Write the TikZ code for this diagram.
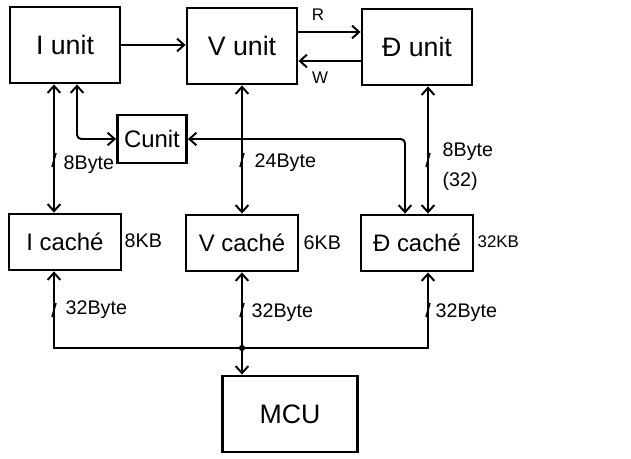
\documentclass[tikz,border=0pt]{standalone}
\usepackage{fontspec}
\setmainfont{Liberation Sans}
\usetikzlibrary{arrows.meta}

\begin{document}
\begin{tikzpicture}[x=0.025cm,y=-0.025cm,>={Straight Barb[length=5pt,width=9pt]}]
\tikzstyle{unitbox}=[draw,line width=2pt,minimum width=2.75cm,minimum height=1.9cm,font=\fontsize{19}{21}\selectfont]
\tikzstyle{cachebox}=[draw,line width=2pt,minimum width=2.8cm,minimum height=1.4cm,font=\fontsize{17}{19}\selectfont]
\tikzstyle{conn}=[draw,line width=1.4pt]
\tikzstyle{lab}=[font=\fontsize{14}{16}\selectfont,inner sep=1pt]
\tikzstyle{rw}=[font=\fontsize{12}{14}\selectfont,inner sep=1pt]

\useasboundingbox (0,0) rectangle (631,459);

\node[unitbox] (Iu) at (65,45) {I unit};
\node[unitbox] (Vu) at (242,46) {V unit};
\node[unitbox] (Du) at (417,47) {Đ unit};
\node[draw,line width=2pt,minimum width=1.725cm,minimum height=1.2cm,inner sep=1pt,font=\fontsize{17}{19}\selectfont] (Cu) at (152,139) {Cunit};
\node[cachebox] (Ic) at (65,242) {I caché};
\node[cachebox] (Vc) at (242,243) {V caché};
\node[cachebox] (Dc) at (417,243) {Đ caché};
\node[unitbox,minimum width=3.375cm] (MCU) at (290,414) {MCU};
\coordinate (bus) at (242,348);

% unit to unit
\path (Iu.east) edge[conn,->] (Iu.east -| Vu.west);
\path ([yshift=0.35cm]Vu.east) edge[conn,->] ([yshift=0.35cm]Vu.east -| Du.west);
\path ([yshift=-0.35cm]Du.west) edge[conn,->] ([yshift=-0.35cm]Du.west -| Vu.east);
\node[rw] (r) at (318,15) {R};
\node[rw] (w) at (320,78) {W};

% units to caches
\path ([xshift=-0.275cm]Iu.south) edge[conn,<->] ([xshift=-0.275cm]Ic.north);
\draw[conn,<->,rounded corners=3pt] ([xshift=0.3cm]Iu.south) |- (Cu.west);
\draw[conn,<->,rounded corners=3pt] (Cu.east) -| ([xshift=-0.3cm]Dc.north);
\path (Vu.south) edge[conn,<->] (Vc.north);
\path ([xshift=0.275cm]Du.south) edge[conn,<->] ([xshift=0.275cm]Dc.north);

% caches to MCU
\draw[conn,->] (bus) -| ([xshift=-0.275cm]Ic.south);
\draw[conn,->] (bus) -| ([xshift=0.275cm]Dc.south);
\path (bus) edge[conn,->] (Vc.south);
\path (bus) edge[conn,->] (bus |- MCU.north);
\fill (bus) circle (2.2pt);

\foreach \x/\y in {54/160,242/160,428/160,54/310,242/310,428/310}
  \draw[line width=1.1pt] (\x-2,\y+7) -- (\x+2,\y-7);

\node[lab,anchor=west] (b1) at (62,165) {8Byte};
\node[lab,anchor=west] (b2) at (253,163) {24Byte};
\node[lab,anchor=west] (b3) at (441,152) {8Byte};
\node[lab,anchor=west] (b4) at (441,181) {(32)};
\node[lab,anchor=west] (k1) at (123,241) {8KB};
\node[lab,anchor=west] (k2) at (302,243) {6KB};
\node[lab,anchor=west,font=\fontsize{12}{14}\selectfont] (k3) at (476,242) {32KB};
\node[lab,anchor=west] (s1) at (64,310) {32Byte};
\node[lab,anchor=west] (s2) at (250,313) {32Byte};
\node[lab,anchor=west] (s3) at (434,313) {32Byte};
\end{tikzpicture}
\end{document}
